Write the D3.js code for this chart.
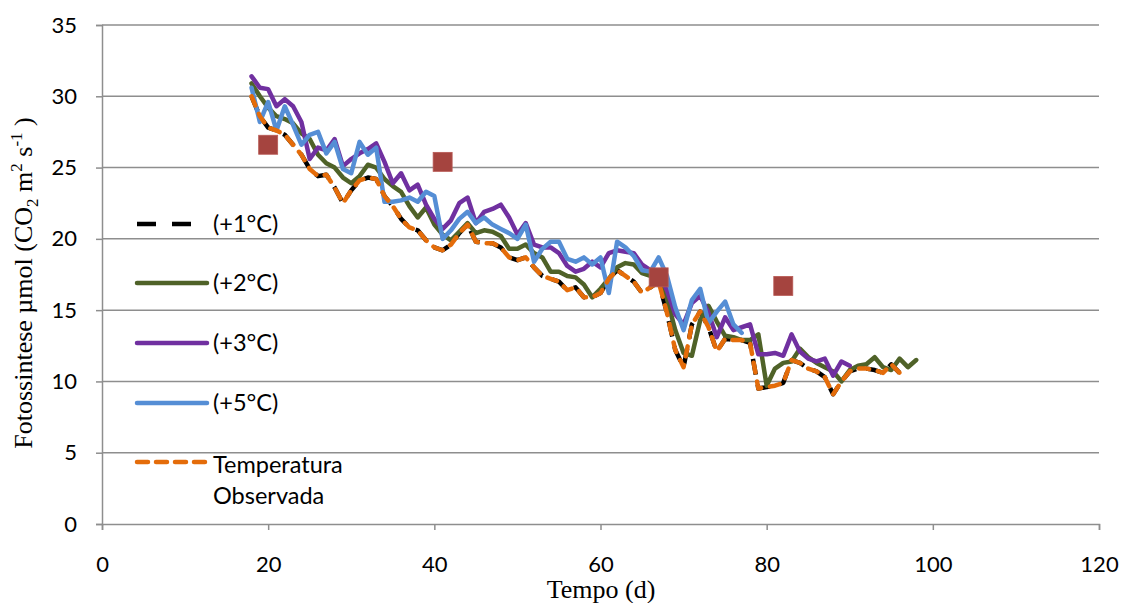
<!DOCTYPE html>
<html><head><meta charset="utf-8">
<script src="https://cdn.jsdelivr.net/npm/d3@7"></script>
<style>
html,body{margin:0;padding:0;background:#fff;}
svg{display:block;}
</style></head>
<body><svg id="c" width="1122" height="603"></svg>
<script>
// ---- data ----
const startDay = 18;
const obs = [30.0,28.6,27.8,27.6,27.3,26.6,25.9,24.9,24.4,24.5,23.6,22.5,23.4,24.1,24.3,24.2,23.0,22.3,21.4,20.8,20.6,19.9,19.4,19.2,19.6,20.4,21.0,19.8,19.7,19.7,19.4,18.7,18.5,18.7,18.0,17.4,17.2,17.0,16.4,16.6,15.9,15.9,16.2,17.2,17.8,17.4,17.0,16.2,16.6,17.0,14.8,12.2,11.0,14.0,14.9,13.8,12.1,13.0,12.9,12.9,12.7,9.5,9.6,9.7,9.9,11.5,11.3,10.9,10.7,10.3,9.1,10.0,10.7,10.9,10.9,10.8,10.6,11.2,10.6];
const plus1 = [30.0,28.6,27.8,27.6,27.3,26.6,25.9,24.9,24.4,24.5,23.6,22.5,23.4,24.1,24.3,24.2,23.0,22.3,21.4,20.8,20.6,19.9,19.4,19.2,19.6,20.4,21.0,19.8,19.7,19.7,19.4,18.7,18.5,18.7,18.0,17.4,17.2,17.0,16.4,16.6,15.9,15.9,16.2,17.2,17.8,17.4,17.0,16.2,16.6,17.0,14.8,12.2,11.0,14.0,14.9,13.8,12.1,13.0,12.9,12.9,12.7,9.5,9.6,9.7,9.9,11.5,11.3,10.9,10.7,10.3,9.1,10.0,10.7,10.9,10.9,10.8,10.6,11.2,10.6];
const plus2 = [30.9,30.0,29.2,28.6,28.4,28.1,27.4,27.0,25.9,25.3,25.0,24.3,23.9,24.4,25.2,25.0,24.2,23.7,23.3,22.3,21.5,22.2,21.0,20.3,19.9,20.5,21.1,20.4,20.6,20.5,20.2,19.3,19.3,19.6,19.0,18.7,17.7,17.7,17.4,17.3,16.8,15.9,16.5,17.2,18.0,18.3,18.2,17.6,17.4,17.4,15.8,13.6,12.0,11.8,14.3,15.3,14.2,13.2,13.1,12.9,12.9,13.3,9.7,10.9,11.3,11.4,12.3,11.7,11.3,11.0,10.7,10.0,10.8,11.1,11.2,11.7,11.0,10.8,11.6,11.0,11.5];
const plus3 = [31.4,30.6,30.5,29.3,29.8,29.3,28.2,25.6,26.4,26.2,27.0,25.1,25.6,26.0,26.3,26.7,25.4,23.9,24.6,23.4,23.8,22.4,21.4,20.7,21.3,22.5,22.9,21.1,21.9,22.1,22.4,21.5,20.3,21.1,19.6,19.4,19.4,19.0,18.1,17.7,17.9,18.4,18.0,19.0,19.2,19.1,19.0,18.2,17.8,17.6,16.4,14.7,14.0,15.5,16.0,14.8,13.1,14.5,13.6,13.8,14.0,11.9,11.9,12.0,11.8,13.3,12.1,11.6,11.4,11.6,10.4,11.4,11.1];
const plus5 = [30.6,28.2,29.6,27.6,29.3,28.0,26.6,27.3,27.5,26.0,26.8,24.9,24.6,26.8,25.9,26.4,22.6,22.6,22.7,22.9,22.6,23.3,23.0,20.0,20.6,21.4,21.9,21.1,21.5,21.0,20.7,20.4,20.0,21.0,18.4,19.3,19.8,19.8,18.6,18.4,18.7,18.2,18.7,16.2,19.8,19.4,18.8,17.8,17.7,18.7,17.4,15.2,13.6,15.7,16.5,14.1,14.9,15.6,14.0,13.4];
const measDays = [20, 41, 67, 82];
const measVals = [26.6, 25.4, 17.3, 16.7];
const xTicks = [0,20,40,60,80,100,120];
const yTicks = [0,5,10,15,20,25,30,35];
const seriesNames = ["(+1°C)","(+2°C)","(+3°C)","(+5°C)","Temperatura Observada"];

// ---- layout ----
const svg = d3.select("#c");
const L = 102, R = 1099, T = 25, B = 524;
const x = d3.scaleLinear().domain([0,120]).range([L,R]);
const y = d3.scaleLinear().domain([0,35]).range([B,T]);
const grid = "#8e8e8e";
const tickFont = "Lato, 'Open Sans', sans-serif";

// gridlines
svg.append("g").selectAll("line").data(yTicks.filter(d=>d>0)).join("line")
  .attr("x1",L).attr("x2",R).attr("y1",d=>y(d)).attr("y2",d=>y(d))
  .attr("stroke",grid).attr("stroke-width",1.5);

// axes
const gx = svg.append("g").attr("transform",`translate(0,${B})`)
  .call(d3.axisBottom(x).tickValues(xTicks).tickSize(6).tickPadding(26).tickFormat(d3.format("d")));
const gy = svg.append("g").attr("transform",`translate(${L},0)`)
  .call(d3.axisLeft(y).tickValues(yTicks).tickSize(6).tickPadding(19).tickFormat(d3.format("d")));
[gx,gy].forEach(g=>{
  g.select(".domain").attr("stroke",grid).attr("stroke-width",1.5);
  g.selectAll(".tick line").attr("stroke",grid).attr("stroke-width",1.5);
  g.selectAll(".tick text").attr("fill","#000").style("font-family",tickFont).style("font-size","22px");
});

// lines
const mk = arr => arr.map((v,i)=>({d:startDay+i,v}));
const line = d3.line().x(p=>x(p.d)).y(p=>y(p.v));
const series = [
  {data:plus1, color:"#000000", dash:"16,10", cap:"butt"},
  {data:plus2, color:"#4f6228", dash:null, cap:"round"},
  {data:plus3, color:"#7030a0", dash:null, cap:"round"},
  {data:plus5, color:"#558ed5", dash:null, cap:"round"},
  {data:obs,   color:"#e46c0a", dash:"10,9", cap:"round"}
];
series.forEach(s=>{
  svg.append("path").datum(mk(s.data)).attr("d",line)
    .attr("fill","none").attr("stroke",s.color).attr("stroke-width",4.5)
    .attr("stroke-linejoin","round").attr("stroke-linecap",s.cap)
    .attr("stroke-dasharray",s.dash);
});

// measured squares
const sq = 19;
svg.append("g").selectAll("rect").data(measDays.map((d,i)=>({d,v:measVals[i]}))).join("rect")
  .attr("x",p=>x(p.d)-sq/2).attr("y",p=>y(p.v)-sq/2).attr("width",sq).attr("height",sq)
  .attr("fill","#a5443f").attr("stroke","#b85a55").attr("stroke-width",0.8);

// legend
const legY = [224, 283, 343, 403, 462];
const lg = svg.append("g");
series.forEach((s,i)=>{
  lg.append("line").attr("x1",137).attr("x2",207).attr("y1",legY[i]).attr("y2",legY[i])
    .attr("stroke",s.color).attr("stroke-width",4.5)
    .attr("stroke-linecap", i===0 ? "butt" : "round")
    .attr("stroke-dasharray", i===0 ? "19,16" : (i===4 ? "11,8" : null));
});
seriesNames.forEach((n,i)=>{
  const t = lg.append("text").attr("x",213).attr("y",legY[i] + (i===4 ? 11 : 8))
    .style("font-family",tickFont).style("font-size","23.5px").attr("fill","#000");
  if(i===4){
    t.append("tspan").attr("x",213).text("Temperatura");
    t.append("tspan").attr("x",213).attr("dy",31).text("Observada");
  } else t.text(n);
});

// axis titles
const serif = "'Liberation Serif', 'Times New Roman', serif";
svg.append("text").attr("x",601).attr("y",598).attr("text-anchor","middle")
  .style("font-family",serif).style("font-size","26px").text("Tempo (d)");
const yt = svg.append("text").attr("transform","translate(32,283) rotate(-90)").attr("text-anchor","middle")
  .style("font-family",serif).style("font-size","26px");
yt.append("tspan").text("Fotossintese µmol (CO");
yt.append("tspan").attr("dy",6).style("font-size","17px").text("2");
yt.append("tspan").attr("dy",-6).text(" m");
yt.append("tspan").attr("dy",-10).style("font-size","17px").text("2");
yt.append("tspan").attr("dy",10).text(" s");
yt.append("tspan").attr("dy",-10).style("font-size","17px").text("-1");
yt.append("tspan").attr("dy",10).text(" )");
</script></body></html>
